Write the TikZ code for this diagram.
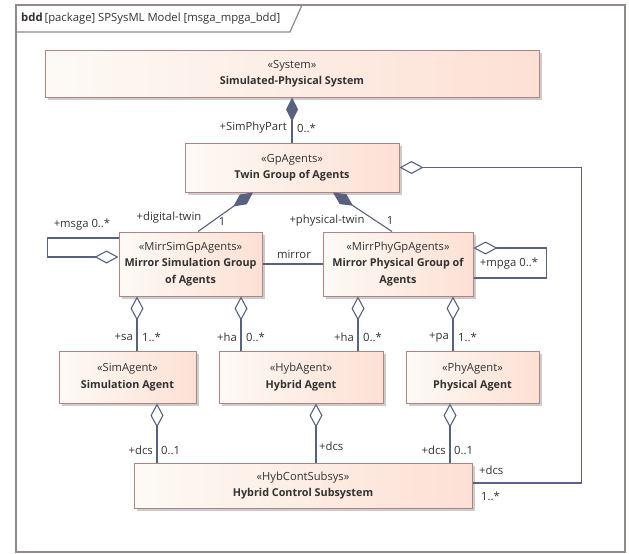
\documentclass[tikz,border=0pt]{standalone}
\usepackage{fontspec}
\setmainfont{Open Sans}
\usetikzlibrary{arrows.meta,shadows,calc}
\definecolor{boxborder}{RGB}{176,132,132}
\definecolor{boxleft}{RGB}{253,250,245}
\definecolor{boxright}{RGB}{253,224,212}
\definecolor{conn}{RGB}{88,98,128}
\definecolor{framec}{RGB}{150,136,136}
\definecolor{txt}{RGB}{50,50,50}
\newcommand{\bnm}[1]{{\fontsize{10.8}{16.5}\selectfont\bfseries #1}}
\tikzset{
  blk/.style={draw=boxborder, line width=1pt, left color=boxleft, right color=boxright,
    shading angle=90, drop shadow={shadow xshift=3pt, shadow yshift=-3pt, fill=black!25, opacity=0.8},
    align=center, inner sep=0pt, text=txt, font=\fontsize{11.2}{16.5}\selectfont},
  rel/.style={draw=conn, line width=1.1pt},
  agg/.style={rel, -{Diamond[length=24pt,width=13pt,open,fill=white,line width=1.1pt]}},
  comp/.style={rel, -{Diamond[length=24pt,width=12pt,fill=conn,line width=1pt]}},
  lbl/.style={font=\fontsize{11.3}{12}\selectfont, text=txt, inner sep=0pt}
}
\begin{document}
\begin{tikzpicture}[x=1pt,y=-1pt]
\useasboundingbox (0,0) rectangle (629,554);
% frame
\draw[draw=framec, line width=1.5pt] (16,5) rectangle (625,552);
\draw[draw=framec, line width=1.2pt] (16,32) -- (290,32) -- (302,5);
\node[lbl, anchor=west, font=\fontsize{11.3}{12}\selectfont] (title) at (21,19) {\textbf{bdd}\,[package] SPSysML Model [msga\_mpga\_bdd]};
% blocks
\node[blk, minimum width=494pt, minimum height=47pt] (sys) at (292,73.5) {«System»\\\bnm{Simulated-Physical System}};
\node[blk, minimum width=214pt, minimum height=49pt] (twin) at (292,167.5) {«GpAgents»\\\bnm{Twin Group of Agents}};
\node[blk, minimum width=143pt, minimum height=64pt] (msim) at (190.5,264) {«MirrSimGpAgents»\\\bnm{Mirror Simulation Group}\\\bnm{of Agents}};
\node[blk, minimum width=150pt, minimum height=64pt] (mphy) at (398,264) {«MirrPhyGpAgents»\\\bnm{Mirror Physical Group of}\\\bnm{Agents}};
\node[blk, minimum width=137pt, minimum height=52pt] (sima) at (127.5,377) {«SimAgent»\\\bnm{Simulation Agent}};
\node[blk, minimum width=164pt, minimum height=52pt] (hyba) at (301,377) {«HybAgent»\\\bnm{Hybrid Agent}};
\node[blk, minimum width=133pt, minimum height=52pt] (phya) at (472.5,377) {«PhyAgent»\\\bnm{Physical Agent}};
\node[blk, minimum width=338pt, minimum height=45pt] (hcs) at (303,485.5) {«HybContSubsys»\\\bnm{Hybrid Control Subsystem}};
% compositions
\draw[comp] (twin.north) -- (sys.south);
\draw[comp] ([xshift=7.5pt]msim.north) -- ([xshift=-39pt]twin.south);
\draw[comp] ([xshift=-6pt]mphy.north) -- ([xshift=41pt]twin.south);
% mirror
\draw[rel] (msim.east) -- (mphy.west);
% self loops
\draw[agg] ([yshift=26pt]msim.west) -- ++(-71,0) |- ([yshift=7pt]msim.west);
\draw[agg] ([yshift=-14pt]mphy.east) -- ++(73,0) |- ([yshift=16pt]mphy.east);
% twin to hcs
\draw[agg] ([yshift=2.5pt]hcs.east) -- ++(109,0) |- (twin.east);
% agents to groups
\draw[agg] ([xshift=9.5pt]sima.north) -- ([xshift=9.5pt]sima.north |- msim.south);
\draw[agg] ([xshift=-60pt]hyba.north) -- ([xshift=-60pt]hyba.north |- msim.south);
\draw[agg] ([xshift=57pt]hyba.north) -- ([xshift=57pt]hyba.north |- mphy.south);
\draw[agg] ([xshift=-19.5pt]phya.north) -- ([xshift=-19.5pt]phya.north |- mphy.south);
% hcs to agents
\draw[agg] ([xshift=-146pt]hcs.north) -- ([xshift=-146pt]hcs.north |- sima.south);
\draw[agg] ([xshift=13pt]hcs.north) -- ([xshift=13pt]hcs.north |- hyba.south);
\draw[agg] ([xshift=147pt]hcs.north) -- ([xshift=147pt]hcs.north |- phya.south);
% labels
\node[lbl, anchor=east] (l1) at (287,128) {+SimPhyPart};
\node[lbl, anchor=west] (l2) at (297,128) {0..*};
\node[lbl] (l3) at (169,218) {+digital-twin};
\node[lbl] (l4) at (222,221) {1};
\node[lbl] (l5) at (327,221) {+physical-twin};
\node[lbl] (l6) at (390,220) {1};
\node[lbl] (l7) at (294,254) {mirror};
\node[lbl] (l8) at (82,225) {+msga 0..*};
\node[lbl] (l9) at (509,264) {+mpga 0..*};
\node[lbl, anchor=east] (l10) at (133,337) {+sa};
\node[lbl, anchor=west] (l11) at (142,337) {1..*};
\node[lbl, anchor=east] (l12) at (237,337) {+ha};
\node[lbl, anchor=west] (l13) at (246,337) {0..*};
\node[lbl, anchor=east] (l14) at (354,337) {+ha};
\node[lbl, anchor=west] (l15) at (363,337) {0..*};
\node[lbl, anchor=east] (l16) at (449,337) {+pa};
\node[lbl, anchor=west] (l17) at (458,337) {1..*};
\node[lbl, anchor=east] (l18) at (153,450) {+dcs};
\node[lbl, anchor=west] (l19) at (161,450) {0..1};
\node[lbl, anchor=west] (l20) at (319,446) {+dcs};
\node[lbl, anchor=east] (l21) at (446,450) {+dcs};
\node[lbl, anchor=west] (l22) at (454,450) {0..1};
\node[lbl, anchor=west] (l23) at (479,470) {+dcs};
\node[lbl, anchor=west] (l24) at (481,496) {1..*};
\end{tikzpicture}
\end{document}
